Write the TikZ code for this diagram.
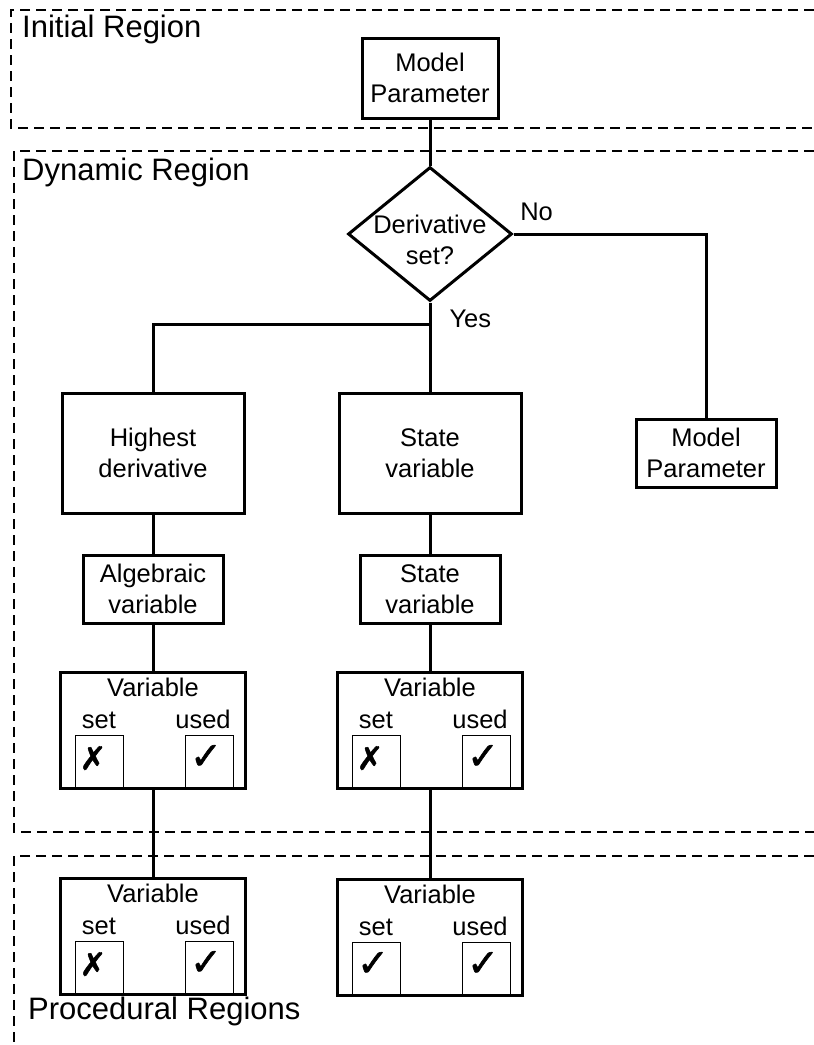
\documentclass[tikz,border=0pt]{standalone}
\usepackage{fontspec}
\setmainfont{Liberation Sans}
\newfontfamily\marksfont[FakeBold=1.5]{DejaVu Sans}
\usetikzlibrary{shapes.geometric}

\begin{document}
\begin{tikzpicture}[x=1pt, y=-1pt,
	every node/.style={font=\fontsize{25.5}{31}\selectfont, align=center, inner sep=0pt},
	bigbox/.style={draw, line width=3pt, minimum width=182pt, minimum height=120pt},
	midbox/.style={draw, line width=3pt, minimum width=140pt, minimum height=68pt},
	varbox/.style={draw, line width=3pt, minimum width=185pt, minimum height=116pt},
	tickbox/.style={draw, line width=0.8pt, minimum width=48pt, minimum height=54pt, anchor=south},
	xmark/.style={xshift=-6pt, yshift=4pt, font=\marksfont\fontsize{32}{32}\selectfont},
	vmark/.style={xshift=-3pt, yshift=5pt, font=\marksfont\fontsize{38}{38}\selectfont},
	decision/.style={draw, diamond, line width=3pt, minimum width=164pt, minimum height=134pt},
	wire/.style={line width=3pt},
	regionline/.style={line width=1.2pt, dash pattern=on 10pt off 6pt},
	regionlbl/.style={anchor=west, font=\fontsize{31}{36}\selectfont}
]
\useasboundingbox (0,0) rectangle (814,1045);

\draw[regionline] (814,10) -| (11,128) -- (814,128);
\draw[regionline] (814,151) -| (14,832) -- (814,832);
\draw[regionline] (814,856) -| (14,1045);
\node[regionlbl] (initlbl) at (22,29) {Initial Region};
\node[regionlbl] (dynlbl) at (22,172) {Dynamic Region};
\node[regionlbl] (proclbl) at (28,1011) {Procedural Regions};

\node[midbox, minimum width=136pt, minimum height=80pt] (mpinit) at (430,78) {Model\\Parameter};
\node[decision] (dset) at (430,234) {};
\node (dsettxt) at (430,240) {Derivative\\set?};
\node[bigbox] (hideriv) at (153,453) {Highest\\derivative};
\node[bigbox] (stbig) at (430,453) {State\\variable};
\node[midbox] (mpdyn) at (706,453) {Model\\Parameter};
\node[midbox] (algvar) at (153,589) {Algebraic\\variable};
\node[midbox] (stvar) at (430,589) {State\\variable};

\node[varbox] (vleft) at (153,730) {};
\node[anchor=base] (vleftT) at ([yshift=-26pt]vleft.north) {Variable};
\node[anchor=base] (vleftA) at ([xshift=40pt, yshift=-58pt]vleft.north west) {set};
\node[anchor=base] (vleftB) at ([xshift=-44pt, yshift=-58pt]vleft.north east) {used};
\node[tickbox, label={[xmark]center:✗}] (vleftS) at ([xshift=40pt]vleft.south west) {};
\node[tickbox, label={[vmark]center:✓}] (vleftU) at ([xshift=-38pt]vleft.south east) {};

\node[varbox] (vright) at (430,730) {};
\node[anchor=base] (vrightT) at ([yshift=-26pt]vright.north) {Variable};
\node[anchor=base] (vrightA) at ([xshift=40pt, yshift=-58pt]vright.north west) {set};
\node[anchor=base] (vrightB) at ([xshift=-44pt, yshift=-58pt]vright.north east) {used};
\node[tickbox, label={[xmark]center:✗}] (vrightS) at ([xshift=40pt]vright.south west) {};
\node[tickbox, label={[vmark]center:✓}] (vrightU) at ([xshift=-38pt]vright.south east) {};

\node[varbox] (pleft) at (153,936) {};
\node[anchor=base] (pleftT) at ([yshift=-26pt]pleft.north) {Variable};
\node[anchor=base] (pleftA) at ([xshift=40pt, yshift=-58pt]pleft.north west) {set};
\node[anchor=base] (pleftB) at ([xshift=-44pt, yshift=-58pt]pleft.north east) {used};
\node[tickbox, label={[xmark]center:✗}] (pleftS) at ([xshift=40pt]pleft.south west) {};
\node[tickbox, label={[vmark]center:✓}] (pleftU) at ([xshift=-38pt]pleft.south east) {};

\node[varbox] (pright) at (430,937) {};
\node[anchor=base] (prightT) at ([yshift=-26pt]pright.north) {Variable};
\node[anchor=base] (prightA) at ([xshift=40pt, yshift=-58pt]pright.north west) {set};
\node[anchor=base] (prightB) at ([xshift=-44pt, yshift=-58pt]pright.north east) {used};
\node[tickbox, label={[vmark]center:✓}] (prightS) at ([xshift=40pt]pright.south west) {};
\node[tickbox, label={[vmark]center:✓}] (prightU) at ([xshift=-38pt]pright.south east) {};

\coordinate (yesjoint) at (430,324);
\draw[wire] (mpinit) -- (dset);
\draw[wire] (dset.east) -| node[pos=0.06, above=12pt] (nolbl) {No} (mpdyn.north);
\draw[wire] (dset.south) -- node[pos=0.18, right=18pt] (yeslbl) {Yes} (stbig.north);
\draw[wire] (yesjoint) -| (hideriv.north);
\draw[wire] (hideriv) -- (algvar);
\draw[wire] (algvar) -- (vleft);
\draw[wire] (vleft) -- (pleft);
\draw[wire] (stbig) -- (stvar);
\draw[wire] (stvar) -- (vright);
\draw[wire] (vright) -- (pright);
\end{tikzpicture}
\end{document}
